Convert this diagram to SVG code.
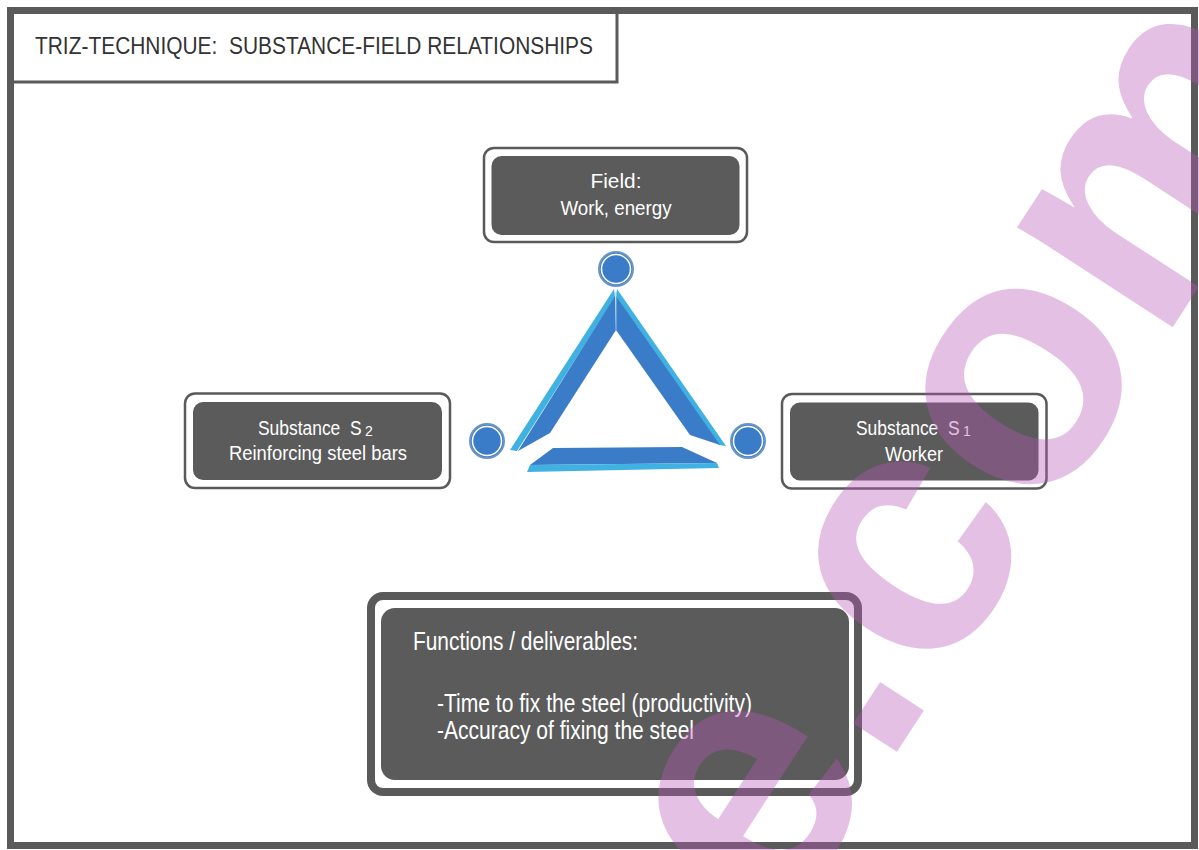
<svg xmlns="http://www.w3.org/2000/svg" width="1199" height="850" viewBox="0 0 1199 850">
  <style>
    .frame { fill: #ffffff; stroke: #5a5a5a; }
    .outer { fill: #ffffff; stroke: #5a5a5a; stroke-width: 2.5; }
    .inner { fill: #5b5b5b; }
    .lbl { font-family: "Liberation Sans Narrow", "Liberation Sans", Arial, sans-serif; fill: #ffffff; }
    .ctr { text-anchor: middle; }
    .title { font-family: "Liberation Sans Narrow", "Liberation Sans", Arial, sans-serif; fill: #333333; font-size: 24px; }
    .arm-dark { fill: #3b7cc8; }
    .arm-light { fill: #3fb2e2; }
    .dot { fill: #3a7cc8; stroke: #6b95c6; stroke-width: 2; }
    .ring { fill: none; stroke: #ffffff; stroke-width: 1.5; }
  </style>

  <!-- page frame -->
  <rect class="frame" x="10.5" y="10.5" width="1184" height="835" stroke-width="7"/>

  <!-- title block -->
  <g id="title">
    <path d="M617 14 V82 H14" fill="none" stroke="#5a5a5a" stroke-width="3"/>
    <text class="title" x="35" y="53.5" textLength="558" lengthAdjust="spacingAndGlyphs">TRIZ-TECHNIQUE:&#160; SUBSTANCE-FIELD RELATIONSHIPS</text>
  </g>

  <!-- substance-field triangle and connection points -->
  <g id="connectors">
    <polygon class="arm-light" points="614,289 510,450 517,451 615,297"/>
    <polygon class="arm-dark" points="615,296 518,451 550,433 616,330"/>
    <polygon class="arm-light" points="617,289 726,446 719,445 616,297"/>
    <polygon class="arm-dark" points="616,296 720,445 690,435 616,330"/>
    <polygon class="arm-dark" points="553,448 682,447 717,463 530,465"/>
    <polygon class="arm-light" points="530,465 717,463 719,468 527,472"/>
    <line x1="616" y1="292" x2="616" y2="330" stroke="#8cc8ec" stroke-width="1"/>

    <circle class="dot" cx="616" cy="269" r="17"/>
    <circle class="ring" cx="616" cy="269" r="14.5"/>
    <circle class="dot" cx="487" cy="441" r="17"/>
    <circle class="ring" cx="487" cy="441" r="14.5"/>
    <circle class="dot" cx="748" cy="441" r="17"/>
    <circle class="ring" cx="748" cy="441" r="14.5"/>
  </g>

  <!-- field node -->
  <g id="field">
    <rect class="outer" x="484" y="148" width="263" height="94" rx="10"/>
    <rect class="inner" x="491.5" y="156" width="248" height="79" rx="10"/>
    <text class="lbl ctr" x="616" y="188" font-size="20" textLength="51" lengthAdjust="spacingAndGlyphs">Field:</text>
    <text class="lbl ctr" x="616" y="215" font-size="20" textLength="111" lengthAdjust="spacingAndGlyphs">Work, energy</text>
  </g>

  <!-- substance S2 node (narrowed label, subscript set separately) -->
  <g id="substance-s2">
    <rect class="outer" x="185" y="393.5" width="265" height="94.5" rx="10"/>
    <rect class="inner" x="193" y="402" width="249" height="78" rx="10"/>
    <text class="lbl" transform="translate(258 435) scale(0.83 1)" font-size="21">Substance&#160; S</text>
    <text class="lbl" x="365" y="436" font-size="14">2</text>
    <text class="lbl ctr" x="318" y="460" font-size="21" textLength="178" lengthAdjust="spacingAndGlyphs">Reinforcing steel bars</text>
  </g>

  <!-- substance S1 node -->
  <g id="substance-s1">
    <rect class="outer" x="782" y="394" width="264.5" height="94.5" rx="10"/>
    <rect class="inner" x="790" y="402.5" width="248.5" height="78" rx="10"/>
    <text class="lbl" transform="translate(856 435) scale(0.83 1)" font-size="21">Substance&#160; S</text>
    <text class="lbl" x="963" y="436" font-size="14">1</text>
    <text class="lbl ctr" x="914" y="461" font-size="21" textLength="58" lengthAdjust="spacingAndGlyphs">Worker</text>
  </g>

  <!-- functions / deliverables panel -->
  <g id="functions">
    <rect x="371" y="596" width="487" height="196" rx="12" fill="#ffffff" stroke="#5a5a5a" stroke-width="8"/>
    <rect class="inner" x="381" y="608" width="468" height="172" rx="14"/>
    <text class="lbl" x="413" y="650" font-size="25" textLength="225" lengthAdjust="spacingAndGlyphs">Functions / deliverables:</text>
    <text class="lbl" x="437" y="712" font-size="25" textLength="315" lengthAdjust="spacingAndGlyphs">-Time to fix the steel (productivity)</text>
    <text class="lbl" x="437" y="739" font-size="25" textLength="257" lengthAdjust="spacingAndGlyphs">-Accuracy of fixing the steel</text>
  </g>

  <!-- translucent site mark laid over the page -->
  <g id="mark" opacity="0.37">
    <text x="0" y="0" transform="translate(778 935) rotate(-57)" font-family="'Liberation Sans', Arial, sans-serif" font-weight="bold" font-size="350" fill="#b858b8">e.com</text>
  </g>
</svg>
